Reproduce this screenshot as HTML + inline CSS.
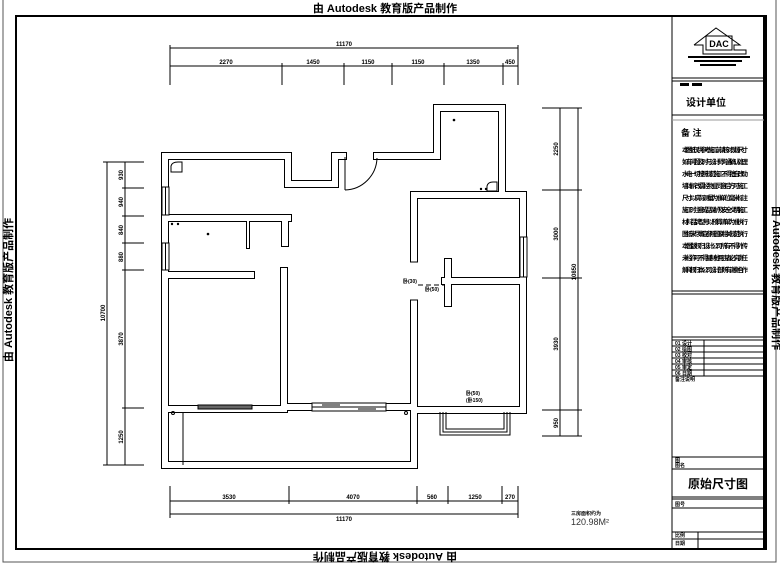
<!DOCTYPE html>
<html><head><meta charset="utf-8"><style>
html,body{margin:0;padding:0;background:#fff;overflow:hidden;width:780px;height:565px;}
svg{display:block;}
text{font-family:"Liberation Sans","Noto Sans CJK SC",sans-serif;}
</style></head><body>
<svg width="780" height="565" viewBox="0 0 780 565" xmlns="http://www.w3.org/2000/svg">
<rect width="780" height="565" fill="#fff"/>
<rect x="3" y="-5" width="773" height="567" fill="none" stroke="#555" stroke-width="1"/>
<rect x="16" y="16" width="750" height="533" fill="none" stroke="#000" stroke-width="2"/>
<text x="385" y="12" font-size="11" font-weight="bold" text-anchor="middle">由 Autodesk 教育版产品制作</text>
<text x="0" y="4" font-size="11" font-weight="bold" text-anchor="middle" transform="translate(385 557) rotate(180)">由 Autodesk 教育版产品制作</text>
<text font-size="11" font-weight="bold" text-anchor="middle" transform="translate(12 290) rotate(-90)">由 Autodesk 教育版产品制作</text>
<text font-size="11" font-weight="bold" text-anchor="middle" transform="translate(773 278) rotate(90)">由 Autodesk 教育版产品制作</text>

<g stroke="#000" fill="none" stroke-width="1">
<line x1="672" y1="16" x2="672" y2="549"/>
<line x1="764" y1="16" x2="764" y2="549" stroke-width="2"/>
<line x1="672" y1="78" x2="764" y2="78"/>
<line x1="672" y1="81" x2="764" y2="81"/>
<line x1="672" y1="115" x2="764" y2="115"/>
<line x1="672" y1="120" x2="764" y2="120" stroke="#999"/>
<line x1="672" y1="291" x2="764" y2="291"/>
<line x1="672" y1="294" x2="764" y2="294"/>
<line x1="672" y1="337" x2="764" y2="337"/>
<line x1="672" y1="340" x2="764" y2="340"/>
<line x1="672" y1="346" x2="764" y2="346"/>
<line x1="672" y1="352" x2="764" y2="352"/>
<line x1="672" y1="358" x2="764" y2="358"/>
<line x1="672" y1="364" x2="764" y2="364"/>
<line x1="672" y1="370" x2="764" y2="370"/>
<line x1="672" y1="376" x2="764" y2="376"/>
<line x1="704" y1="340" x2="704" y2="376"/>
<line x1="672" y1="457" x2="764" y2="457"/>
<line x1="672" y1="469" x2="764" y2="469"/>
<line x1="672" y1="497" x2="764" y2="497"/>
<line x1="672" y1="499" x2="764" y2="499"/>
<line x1="672" y1="508" x2="764" y2="508"/>
<line x1="672" y1="532" x2="764" y2="532"/>
<line x1="672" y1="539" x2="764" y2="539"/>
<line x1="698" y1="532" x2="698" y2="549"/>
<polyline points="694,45 716,28 740,45 734,45 734,50 746,50 746,54 703,54 703,45 694,45"/>
<rect x="706" y="36" width="26" height="14"/>
</g>
<text x="719" y="47" font-size="9" font-weight="bold" text-anchor="middle">DAC</text>
<rect x="688" y="56" width="62" height="2" fill="#000"/>
<rect x="694" y="60" width="48" height="2" fill="#000"/>
<rect x="700" y="64" width="36" height="2" fill="#000"/>
<rect x="680" y="83" width="9" height="3" fill="#000"/><rect x="692" y="83" width="10" height="3" fill="#000"/>
<text x="686" y="106" font-size="10" font-weight="bold">设计单位</text>
<text x="681" y="136" font-size="9" font-weight="bold">备  注</text>
<g font-size="6.5" font-weight="bold" fill="#000">
<text x="682" y="152" textLength="66">本图纸仅供参考施工前请核对现场尺寸</text>
<text x="682" y="164" textLength="66">如有问题及时与设计师沟通确认处理</text>
<text x="682" y="176" textLength="66">水电一切按照规范施工不得擅自改动</text>
<text x="682" y="188" textLength="66">墙体拆改需经物业同意后方可施工</text>
<text x="682" y="200" textLength="66">尺寸以实际测量为准单位毫米标注</text>
<text x="682" y="212" textLength="66">施工时注意成品保护及安全文明施工</text>
<text x="682" y="224" textLength="66">材料品牌型号以预算清单为准执行</text>
<text x="682" y="236" textLength="66">图纸未尽事宜参照国家相关规范执行</text>
<text x="682" y="248" textLength="66">本图版权归设计公司所有不得外传</text>
<text x="682" y="260" textLength="66">未经许可不得复制他用违者必究责任</text>
<text x="682" y="272" textLength="66">解释权归本公司设计部所有谢谢合作</text>
</g>
<g font-size="5" font-weight="bold">
<text x="675" y="345">01 设计</text><text x="675" y="351">02 绘图</text><text x="675" y="357">03 校对</text>
<text x="675" y="363">04 审核</text><text x="675" y="369">05 审定</text><text x="675" y="375">06 日期</text>
<text x="675" y="381">备注说明</text>
<text x="675" y="462">图</text><text x="675" y="467">图名</text>
<text x="675" y="506">图号</text>
<text x="675" y="537">比例</text><text x="675" y="545">日期</text>
</g>
<text x="718" y="488" font-size="12" font-weight="bold" text-anchor="middle">原始尺寸图</text>

<g stroke="#000" stroke-width="1" fill="none">
<line x1="170" y1="48" x2="518" y2="48"/>
<line x1="170" y1="66" x2="518" y2="66"/>
<line x1="170" y1="45" x2="170" y2="85"/><line x1="518" y1="45" x2="518" y2="85"/>
<line x1="282" y1="63" x2="282" y2="85"/><line x1="344" y1="63" x2="344" y2="85"/>
<line x1="392" y1="63" x2="392" y2="85"/><line x1="444" y1="63" x2="444" y2="85"/>
<line x1="503" y1="63" x2="503" y2="85"/>
<line x1="170" y1="501" x2="518" y2="501"/>
<line x1="170" y1="514" x2="518" y2="514"/>
<line x1="170" y1="486" x2="170" y2="518"/><line x1="518" y1="486" x2="518" y2="518"/>
<line x1="289" y1="486" x2="289" y2="504"/><line x1="417" y1="486" x2="417" y2="504"/>
<line x1="448" y1="486" x2="448" y2="504"/><line x1="502" y1="486" x2="502" y2="504"/>
<line x1="107" y1="162" x2="107" y2="465"/>
<line x1="125" y1="162" x2="125" y2="465"/>
<line x1="103" y1="162" x2="144" y2="162"/><line x1="103" y1="465" x2="144" y2="465"/>
<line x1="122" y1="188" x2="144" y2="188"/><line x1="122" y1="216" x2="144" y2="216"/>
<line x1="122" y1="243" x2="144" y2="243"/><line x1="122" y1="270" x2="144" y2="270"/>
<line x1="122" y1="408" x2="144" y2="408"/>
<line x1="560" y1="108" x2="560" y2="436"/>
<line x1="578" y1="108" x2="578" y2="436"/>
<line x1="542" y1="108" x2="582" y2="108"/><line x1="542" y1="436" x2="582" y2="436"/>
<line x1="542" y1="190" x2="582" y2="190"/><line x1="542" y1="278" x2="582" y2="278"/>
<line x1="542" y1="410" x2="582" y2="410"/>
</g>
<g font-size="6" font-weight="bold" text-anchor="middle">
<text x="344" y="46">11170</text>
<text x="226" y="64">2270</text><text x="313" y="64">1450</text><text x="368" y="64">1150</text>
<text x="418" y="64">1150</text><text x="473" y="64">1350</text><text x="510" y="64">450</text>
<text x="229" y="499">3530</text><text x="353" y="499">4070</text><text x="432" y="499">560</text>
<text x="475" y="499">1250</text><text x="510" y="499">270</text>
<text x="344" y="521">11170</text>
</g>
<g font-size="6" font-weight="bold" text-anchor="middle">
<text transform="translate(105 313) rotate(-90)">10700</text>
<text transform="translate(123 175) rotate(-90)">930</text>
<text transform="translate(123 202) rotate(-90)">940</text>
<text transform="translate(123 230) rotate(-90)">840</text>
<text transform="translate(123 257) rotate(-90)">880</text>
<text transform="translate(123 339) rotate(-90)">3870</text>
<text transform="translate(123 437) rotate(-90)">1250</text>
<text transform="translate(576 272) rotate(-90)">10850</text>
<text transform="translate(558 149) rotate(-90)">2250</text>
<text transform="translate(558 234) rotate(-90)">3000</text>
<text transform="translate(558 344) rotate(-90)">3930</text>
<text transform="translate(558 423) rotate(-90)">950</text>
</g>
<text x="571" y="515" font-size="5" font-weight="bold">三房面积约为</text>
<text x="571" y="525" font-size="9" fill="#333">120.98M²</text>

<g fill="none" stroke-linecap="square" stroke-linejoin="miter">
<g stroke="#000" stroke-width="8">
<path d="M343,156 H335 V184 H288 V156 H165 V465 H414 V195 H523 V410 H414"/>
<path d="M377,156 H437 V108 H502 V195"/>
<path d="M165,218 H288"/><path d="M285,218 V243"/>
<path d="M165,275 H251"/><path d="M284,271 V407 H414"/>
<path d="M165,409 H284"/>
<path d="M445,281 H523"/><path d="M448,262 V303"/>
</g>
<path d="M248,220 V247" stroke="#000" stroke-width="4"/>
<g stroke="#fff" stroke-width="6">
<path d="M343,156 H335 V184 H288 V156 H165 V465 H414 V195 H523 V410 H414"/>
<path d="M377,156 H437 V108 H502 V195"/>
<path d="M165,218 H288"/><path d="M285,218 V243"/>
<path d="M165,275 H251"/><path d="M284,271 V407 H414"/>
<path d="M165,409 H284"/>
<path d="M445,281 H523"/><path d="M448,262 V303"/>
</g>
<path d="M248,220 V247" stroke="#fff" stroke-width="2"/>
</g>
<g stroke="#000" stroke-width="1" fill="#fff">
<rect x="409" y="262" width="10" height="38" stroke="none"/>
<line x1="410" y1="262" x2="418" y2="262"/><line x1="410" y1="300" x2="418" y2="300"/>
<line x1="418" y1="285" x2="445" y2="285" stroke-dasharray="5,3"/>
<rect x="162" y="187" width="7" height="28"/><line x1="165.5" y1="187" x2="165.5" y2="215"/>
<rect x="162" y="243" width="7" height="27"/><line x1="165.5" y1="243" x2="165.5" y2="270"/>
<rect x="520" y="237" width="7" height="40"/><line x1="523.5" y1="237" x2="523.5" y2="277"/>
<rect x="198" y="405" width="54" height="4" fill="#666"/>
<rect x="312" y="403" width="74" height="8"/>
<line x1="312" y1="407" x2="386" y2="407"/>
<line x1="322" y1="405" x2="340" y2="405"/><line x1="358" y1="409" x2="376" y2="409"/>
<line x1="183" y1="412" x2="183" y2="465" fill="none"/>
<path d="M440,412 V435 H510 V412" fill="none"/>
<path d="M443,412 V432 H507 V412" fill="none"/>
<path d="M446,412 V429 H504 V412" fill="none"/>
<line x1="345" y1="157" x2="345" y2="190"/>
<path d="M345,190 A33,33 0 0 0 377,158" fill="none"/>
<path d="M171,172 V166 Q172,162 178,162 H182 V172 Z" fill="none"/>
<path d="M487,191 V186 Q488,182 493,182 H497 V191 Z" fill="none"/>
<circle cx="173" cy="413" r="1.5" fill="none"/><circle cx="406" cy="413" r="1.5" fill="none"/>
</g>
<g fill="#000">
<circle cx="454" cy="120" r="1.3"/><circle cx="208" cy="234" r="1.3"/>
<circle cx="172" cy="224" r="1.2"/><circle cx="178" cy="224" r="1.2"/>
<circle cx="481" cy="189" r="1.2"/><circle cx="486" cy="189" r="1.2"/>
</g>
<g font-size="5" font-weight="bold">
<text x="403" y="283">卧(30)</text>
<text x="425" y="291">卧(50)</text>
<text x="466" y="395">卧(50)</text>
<text x="466" y="402">(卧150)</text>
</g>
</svg>
</body></html>
